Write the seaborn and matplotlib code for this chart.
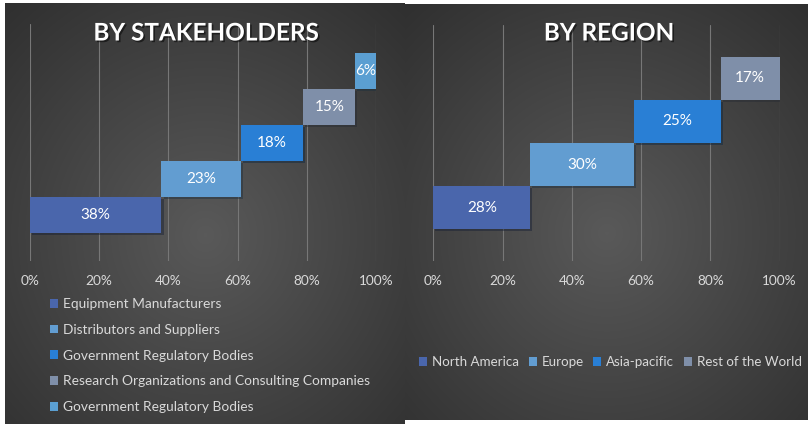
import numpy as np
import matplotlib
matplotlib.use('Agg')
import matplotlib.pyplot as plt
import matplotlib.patheffects as pe
from matplotlib.patches import Patch
import seaborn as sns

# data
stake_labels = ['Equipment Manufacturers', 'Distributors and Suppliers',
                'Government Regulatory Bodies',
                'Research Organizations and Consulting Companies',
                'Government Regulatory Bodies']
stake_share = [38, 23, 18, 15, 6]
stake_colors = ['#4A66AC', '#629DD1', '#297FD5', '#7F8FA9', '#5B9FD2']

region_labels = ['North America', 'Europe', 'Asia-pacific', 'Rest of the World']
region_share = [28, 30, 25, 17]
region_colors = ['#4A66AC', '#629DD1', '#297FD5', '#7F8FA9']

tick_vals = [0, 20, 40, 60, 80, 100]
tick_labels = ['0%', '20%', '40%', '60%', '80%', '100%']

sns.set_theme(style='dark')
plt.rcParams['font.family'] = ['Lato', 'DejaVu Sans']

W, H = 812, 424
fig = plt.figure(figsize=(W / 100, H / 100), dpi=100, facecolor='white')

# dark radial gradient behind each panel
bg = np.ones((H, W, 3))
yy, xx = np.mgrid[0:H, 0:W]


def paint_panel(x0, x1, y0, y1):
    cx, cy = (x0 + x1) / 2, y0 + 0.55 * (y1 - y0)
    r = np.hypot((xx - cx) / (x1 - x0), (yy - cy) / (y1 - y0))
    v = np.clip(0.35 - 0.22 * r, 0.18, 0.35)
    m = (xx >= x0) & (xx < x1) & (yy >= y0) & (yy < y1)
    bg[m] = v[m][:, None]


paint_panel(5, 405, 3, 424)
paint_panel(405, 808, 4, 420)
bg_ax = fig.add_axes([0, 0, 1, 1], zorder=-10)
bg_ax.imshow(bg, aspect='auto', interpolation='nearest')
bg_ax.axis('off')

txt_color = '#D9D9D9'


def waterfall(ax, shares, colors, ylim):
    starts = np.concatenate([[0], np.cumsum(shares)[:-1]])
    ypos = np.arange(len(shares))
    bars = ax.barh(ypos, shares, left=starts, height=1, color=colors,
                   edgecolor='none', linewidth=0, zorder=3)
    for b in bars:
        b.set_path_effects([pe.SimplePatchShadow(offset=(1.5, -1.5), alpha=0.45), pe.Normal()])
    ax.bar_label(bars, labels=[f'{v}%' for v in shares], label_type='center',
                 color='white', fontsize=11)
    ax.set_facecolor('none')
    ax.set_xlim(0, 100)
    ax.set_ylim(*ylim)
    ax.set_xticks(tick_vals, tick_labels)
    ax.set_yticks([])
    ax.tick_params(axis='x', colors=txt_color, labelsize=9.8, pad=10, length=0)
    ax.grid(axis='x', color='#777777', lw=0.8, zorder=0)
    ax.grid(axis='y', visible=False)
    for s in ax.spines.values():
        s.set_visible(False)


def px_axes(x0, x1, y0, y1):
    return fig.add_axes([x0 / W, 1 - y1 / H, (x1 - x0) / W, (y1 - y0) / H])


ax1 = px_axes(30, 376, 24, 261)
waterfall(ax1, stake_share, stake_colors, (-1.278, 5.306))

ax2 = px_axes(433.3, 779.6, 25, 261)
waterfall(ax2, region_share, region_colors, (-1.244, 4.244))

shadow = [pe.withSimplePatchShadow(offset=(1.2, -1.2), shadow_rgbFace='black', alpha=0.5)]
fig.text(206 / W, 1 - 33 / H, 'BY STAKEHOLDERS', ha='center', va='center', color='white',
         fontsize=17.5, fontweight='bold', path_effects=shadow)
fig.text(609 / W, 1 - 33 / H, 'BY REGION', ha='center', va='center', color='white',
         fontsize=17.5, fontweight='bold', path_effects=shadow)

h1 = [Patch(facecolor=c, edgecolor='none', label=l) for c, l in zip(stake_colors, stake_labels)]
fig.legend(handles=h1, loc='upper left', bbox_to_anchor=(50 / W, 1 - 298 / H),
           frameon=False, fontsize=9.9, labelcolor=txt_color, handlelength=0.6,
           handleheight=0.6, handletextpad=0.35, labelspacing=1.0, borderpad=0,
           borderaxespad=0)

h2 = [Patch(facecolor=c, edgecolor='none', label=l) for c, l in zip(region_colors, region_labels)]
fig.legend(handles=h2, loc='center left', bbox_to_anchor=(419 / W, 1 - 362 / H),
           frameon=False, fontsize=9.6, labelcolor=txt_color, ncol=4, handlelength=0.6,
           handleheight=0.6, handletextpad=0.35, columnspacing=0.75, borderpad=0,
           borderaxespad=0)

fig.savefig('out.png', dpi=100, facecolor='white')
